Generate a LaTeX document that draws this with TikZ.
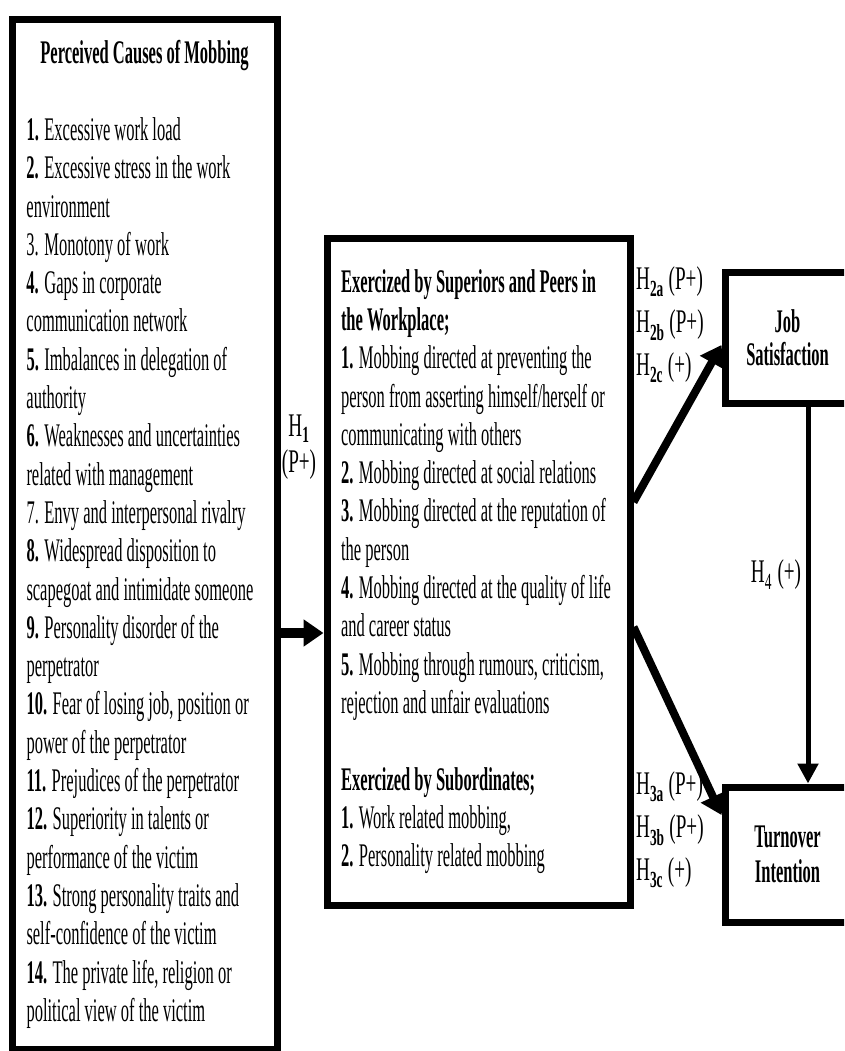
\documentclass[tikz,border=0pt]{standalone}
\usepackage{fontspec}
\setmainfont{Liberation Serif}[FakeStretch=0.5]
\newfontfamily\hypfont{Liberation Serif}[FakeStretch=0.58]
\usetikzlibrary{arrows.meta}
\hyphenpenalty=10000
\newcommand\tightsp{\spaceskip=0pt\xspaceskip=0pt\relax}

\begin{document}
\begin{tikzpicture}[x=1pt,y=-1pt,
    box/.style={draw,line width=7pt,inner sep=0pt},
    txt/.style={font=\fontsize{33}{38.3}\selectfont,align=left},
    conn/.style={line width=8pt,-{Triangle[width=26pt,length=20pt]}},
    hyp/.style={font=\hypfont\fontsize{33}{43}\selectfont,align=left,inner sep=0pt}]
    \clip (0,0) rectangle (844,1051);
    % boxes
    \node[box,txt,text width=236pt,minimum width=265pt,minimum height=1029pt] (causes) at (144.5,534.5) {\tightsp\makebox[236pt][c]{\bfseries Perceived Causes of Mobbing}\\[38.3pt]
        \textbf{1.} Excessive work load\\
        \textbf{2.} Excessive stress in the work\\
        environment\\
        3. Monotony of work\\
        \textbf{4.} Gaps in corporate\\
        communication network\\
        \textbf{5.} Imbalances in delegation of\\
        authority\\
        \textbf{6.} Weaknesses and uncertainties\\
        related with management\\
        7. Envy and interpersonal rivalry\\
        \textbf{8.} Widespread disposition to\\
        scapegoat and intimidate someone\\
        \textbf{9.} Personality disorder of the\\
        perpetrator\\
        \textbf{10.} Fear of losing job, position or\\
        power of the perpetrator\\
        \textbf{11.} Prejudices of the perpetrator\\
        \textbf{12.} Superiority in talents or\\
        performance of the victim\\
        \textbf{13.} Strong personality traits and\\
        self-confidence of the victim\\
        \textbf{14.} The private life, religion or\\
        political view of the victim};
    \node[box,txt,text width=275pt,minimum width=303pt,minimum height=667pt] (mob) at (478.5,571.5) {\tightsp\textbf{Exercized by Superiors and Peers in}\\
        \textbf{the Workplace;}\\
        \textbf{1.} Mobbing directed at preventing the\\
        person from asserting himself/herself or\\
        communicating with others\\
        \textbf{2.} Mobbing directed at social relations\\
        \textbf{3.} Mobbing directed at the reputation of\\
        the person\\
        \textbf{4.} Mobbing directed at the quality of life\\
        and career status\\
        \textbf{5.} Mobbing through rumours, criticism,\\
        rejection and unfair evaluations\\[38.3pt]
        \textbf{Exercized by Subordinates;}\\
        \textbf{1.} Work related mobbing,\\
        \textbf{2.} Personality related mobbing};
    \node[box,font=\bfseries\fontsize{33}{33}\selectfont,align=center,minimum width=125pt,minimum height=131pt] (job) at (787.5,337.5) {Job\\Satisfaction};
    \node[box,font=\bfseries\fontsize{33}{35}\selectfont,align=center,minimum width=125pt,minimum height=135pt] (turn) at (787.5,854.5) {Turnover\\Intention};
    % hypotheses
    \node[hyp,align=center,font=\hypfont\fontsize{33}{36}\selectfont] (h1) at (299,447) {H\textsubscript{\bfseries 1}\\(P+)};
    \node[hyp,anchor=west] (h2) at (636,325) {\tightsp H\textsubscript{\bfseries 2a} (P+)\\H\textsubscript{\bfseries 2b} (P+)\\H\textsubscript{\bfseries 2c} (+)};
    \node[hyp,anchor=west] (h3) at (636,830) {\tightsp H\textsubscript{\bfseries 3a} (P+)\\H\textsubscript{\bfseries 3b} (P+)\\H\textsubscript{\bfseries 3c} (+)};
    \node[hyp] (h4) at (776,575) {H\textsubscript{4}\,(+)};
    % arrows
    \draw[conn,line width=10pt] ([yshift=-98.5pt]causes.east) -- ([yshift=-61.5pt]mob.west);
    \draw[conn] ([yshift=69.5pt]mob.east) -- ([yshift=-7.5pt]job.west);
    \draw[conn] ([yshift=-55.5pt]mob.east) -- ([yshift=39.5pt]turn.west);
    \draw[line width=5pt,-{Triangle[width=20pt,length=20pt]}] ([xshift=20.5pt]job.south) -- ([xshift=20.5pt]turn.north);
\end{tikzpicture}
\end{document}
